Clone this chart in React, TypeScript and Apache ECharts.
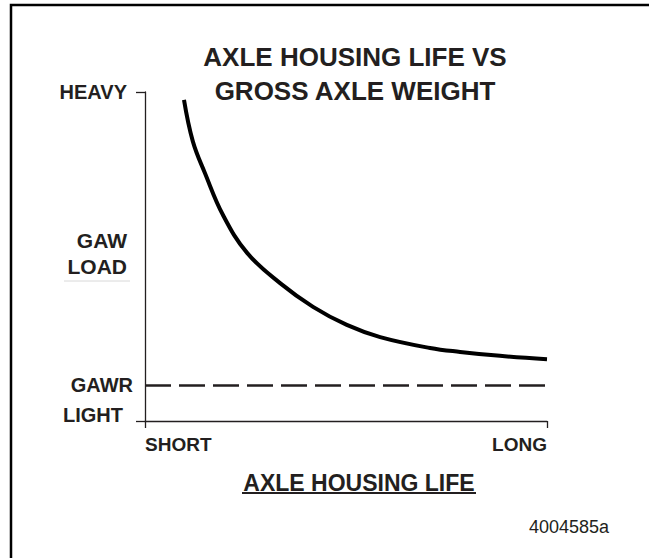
import React, { useEffect, useRef } from "react";
import * as echarts from "echarts";

const titleLines = ["AXLE HOUSING LIFE VS", "GROSS AXLE WEIGHT"];
const xAxisName = "AXLE HOUSING LIFE";
const figureCode = "4004585a";

// x: 0 = SHORT, 100 = LONG ; y: 0 = LIGHT, 100 = HEAVY
const xTickValues = [0, 100];
const xTickLabels = ["SHORT", "LONG"];
const yTickValues = [0, 100];
const yLabelValues = [0, 10.9, 50.8, 100];
const yLabelTexts = ["LIGHT", "GAWR", "GAW\nLOAD", "HEAVY"];
const gawrValue = 10.9;

const lifeValues = [9.7, 11.9, 14.9, 19.4, 25.4, 33.6, 41.8, 50.2, 58.5, 70.9, 78.4, 88.3, 100];
const loadValues = [97.6, 85.0, 75.4, 62.6, 51.1, 41.9, 34.7, 29.2, 25.5, 22.2, 21.0, 19.8, 18.8];

const FONT = "'Liberation Sans', Arial, Helvetica, sans-serif";
const INK = "#231f20";

export default function App() {
  const ref = useRef<HTMLDivElement>(null);

  useEffect(() => {
    if (!ref.current) return;
    const chart = echarts.init(ref.current, null, { renderer: "svg" });
    const richKeys: Record<string, string> = {
      LIGHT: "l",
      GAWR: "g",
      "GAW\nLOAD": "w",
      HEAVY: "h",
    };
    const option: any = {
      animation: false,
      backgroundColor: "#ffffff",
      textStyle: { fontFamily: FONT },
      grid: { left: 145, right: 102, top: 92, bottom: 137, containLabel: false },
      xAxis: {
        type: "value",
        min: 0,
        max: 100,
        splitLine: { show: false },
        axisLine: { show: true, lineStyle: { color: INK, width: 1.3 } },
        axisTick: { show: true, customValues: xTickValues, length: 7, lineStyle: { color: INK, width: 1.3 } },
        axisLabel: {
          show: true,
          customValues: xTickValues,
          formatter: (v: number) => xTickLabels[xTickValues.indexOf(v)] ?? "",
          alignMinLabel: "left",
          alignMaxLabel: "right",
          margin: 14,
          fontSize: 19,
          fontWeight: "bold",
          color: INK,
          fontFamily: FONT,
        },
        name: xAxisName,
        nameLocation: "middle",
        nameGap: 50,
        nameTextStyle: {
          fontSize: 23,
          fontWeight: "bold",
          color: INK,
          fontFamily: FONT,
          padding: [0, 0, 0, 26],
        },
      },
      yAxis: {
        type: "value",
        min: 0,
        max: 100,
        splitLine: { show: false },
        axisLine: { show: true, lineStyle: { color: INK, width: 1.3 } },
        axisTick: { show: true, customValues: yTickValues, length: 9, lineStyle: { color: INK, width: 1.3 } },
        axisLabel: {
          show: true,
          customValues: yLabelValues,
          margin: 12,
          formatter: (v: number) => {
            const i = yLabelValues.indexOf(v);
            if (i < 0) return "";
            const t = yLabelTexts[i];
            const k = richKeys[t];
            return t
              .split("\n")
              .map((s) => `{${k}|${s}}`)
              .join("\n");
          },
          color: INK,
          fontSize: 20,
          fontWeight: "bold",
          fontFamily: FONT,
          rich: {
            l: { fontSize: 20, fontWeight: "bold", color: INK, fontFamily: FONT, padding: [0, 10, 12, 0] },
            g: { fontSize: 20, fontWeight: "bold", color: INK, fontFamily: FONT, padding: [0, 0, 0, 0] },
            w: { fontSize: 21, fontWeight: "bold", color: INK, fontFamily: FONT, lineHeight: 26, padding: [0, 6, 0, 0] },
            h: { fontSize: 20, fontWeight: "bold", color: INK, fontFamily: FONT, padding: [0, 6, 0, 0] },
          },
        },
      },
      series: [
        {
          type: "line",
          data: lifeValues.map((x, i) => [x, loadValues[i]]),
          smooth: 0.4,
          showSymbol: false,
          symbol: "none",
          lineStyle: { color: "#000000", width: 4 },
          silent: true,
          markLine: {
            silent: true,
            symbol: ["none", "none"],
            label: { show: false },
            lineStyle: { color: INK, width: 2.5, type: [26, 8] },
            data: [{ yAxis: gawrValue }],
          },
        },
      ],
      graphic: [
        {
          type: "rect",
          shape: { x: 11, y: 5, width: 800, height: 800 },
          style: { fill: "none", stroke: "#000000", lineWidth: 2.5 },
          silent: true,
        },
        {
          type: "text",
          x: 355,
          y: 57,
          style: {
            text: titleLines[0],
            font: `bold 26px ${FONT}`,
            fill: INK,
            textAlign: "center",
            textVerticalAlign: "middle",
          },
        },
        {
          type: "text",
          x: 355,
          y: 91,
          style: {
            text: titleLines[1],
            font: `bold 26px ${FONT}`,
            fill: INK,
            textAlign: "center",
            textVerticalAlign: "middle",
          },
        },
        {
          type: "line",
          shape: { x1: 242, y1: 493, x2: 476, y2: 493 },
          style: { stroke: INK, lineWidth: 2 },
          silent: true,
        },
        {
          type: "line",
          shape: { x1: 64, y1: 281, x2: 130, y2: 281 },
          style: { stroke: "#d8d8d8", lineWidth: 1 },
          silent: true,
        },
        {
          type: "text",
          x: 609,
          y: 527,
          style: {
            text: figureCode,
            font: `18px ${FONT}`,
            fill: INK,
            textAlign: "right",
            textVerticalAlign: "middle",
          },
        },
      ],
    };
    chart.setOption(option);
    return () => chart.dispose();
  }, []);

  return (
    <div
      ref={ref}
      style={{ width: 649, height: 558, position: "absolute", left: 0, top: 0, background: "#fff" }}
    />
  );
}
